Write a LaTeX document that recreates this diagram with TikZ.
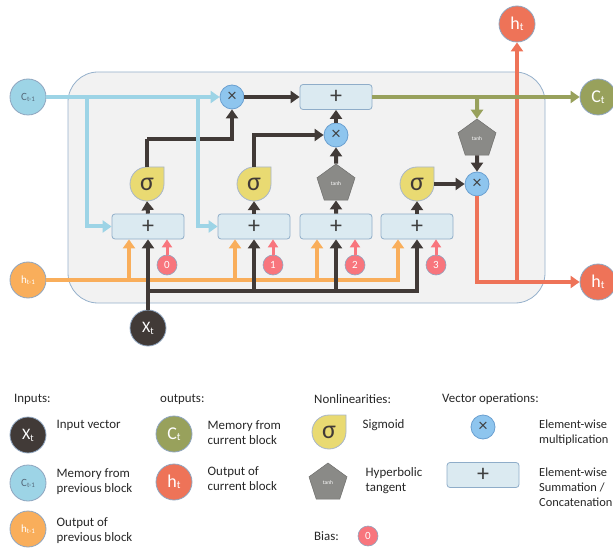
\documentclass[tikz,border=0pt]{standalone}
\usepackage{fontspec}
\setmainfont{Carlito}
\usetikzlibrary{arrows.meta,shapes.geometric,calc}
\definecolor{cblue}{HTML}{9DD4E6}
\definecolor{corange}{HTML}{F9AE5B}
\definecolor{cdark}{HTML}{413A37}
\definecolor{cred}{HTML}{EE7358}
\definecolor{cgreen}{HTML}{98A15C}
\definecolor{multfill}{HTML}{8EC5EE}
\definecolor{multborder}{HTML}{6A9FD0}
\definecolor{boxfill}{HTML}{DBEAF1}
\definecolor{boxborder}{HTML}{8FADC9}
\definecolor{sigfill}{HTML}{E9DA72}
\definecolor{sigborder}{HTML}{A8B6CB}
\definecolor{tanhgray}{HTML}{8A8A87}
\definecolor{biasfill}{HTML}{F8757D}
\definecolor{bgfill}{HTML}{F2F2F2}
\definecolor{bgborder}{HTML}{95B0CB}
\definecolor{circborder}{HTML}{8FA5BF}
\definecolor{symcol}{HTML}{3F3F3F}
\definecolor{ctextcol}{HTML}{55697A}
\newcommand\sigshape[2]{\filldraw[fill=sigfill, draw=sigborder, line width=0.8pt]
  (#1+17,#2-17) -- (#1+17,#2)
  .. controls (#1+17,#2+9.39) and (#1+9.39,#2+17) .. (#1,#2+17)
  .. controls (#1-9.39,#2+17) and (#1-17,#2+9.39) .. (#1-17,#2)
  .. controls (#1-17,#2-9.39) and (#1-9.39,#2-17) .. (#1,#2-17)
  -- cycle;}
\begin{document}
\begin{tikzpicture}[x=1pt,y=-1pt,
  every node/.style={inner sep=0pt, font=\fontsize{12.9}{15}\selectfont},
  circ/.style={circle, minimum size=36pt, draw=circborder, line width=0.8pt, text=white},
  plusbox/.style={rectangle, rounded corners=3pt, minimum width=72pt, minimum height=25pt, fill=boxfill, draw=boxborder, line width=0.8pt, text=symcol, font=\fontsize{24}{24}\selectfont},
  mult/.style={circle, minimum size=24pt, fill=multfill, draw=multborder, line width=0.8pt, text=symcol, font=\fontsize{18}{18}\selectfont},
  tanhnode/.style={regular polygon, regular polygon sides=5, minimum size=40pt, fill=tanhgray, draw=tanhgray!80!black, line width=0.5pt, text=white, font=\fontsize{5.5}{5.5}\selectfont},
  biasnode/.style={circle, minimum size=20pt, fill=biasfill, draw=circborder, line width=0.6pt, text=white, font=\fontsize{11}{11}\selectfont},
  sigtext/.style={circle, minimum size=34pt, text=cdark, font=\fontsize{26}{26}\selectfont},
  legtext/.style={anchor=west, align=left, text=black!85},
  conn/.style={line width=4pt, -{Triangle[width=12pt,length=9pt]}},
  plainline/.style={line width=4pt},
  biasconn/.style={line width=3pt, draw=biasfill, -{Triangle[width=10pt,length=8pt]}}
]
\useasboundingbox (0,0) rectangle (613,548);
% background block
\filldraw[fill=bgfill, draw=bgborder, line width=0.8pt, rounded corners=30pt] (68,72) rectangle (545,303);

% external circles
\node[circ, fill=cblue, text=ctextcol] (cprev) at (28,97) {\fontsize{11}{11}\selectfont C\raisebox{-1pt}{\fontsize{7}{7}\selectfont t-1}};
\node[circ, fill=corange] (hprev) at (28,280) {\fontsize{11}{11}\selectfont h\raisebox{-1pt}{\fontsize{7}{7}\selectfont t-1}};
\node[circ, fill=cdark] (X) at (148,328) {\fontsize{16}{16}\selectfont X\raisebox{-2pt}{\fontsize{10}{10}\selectfont t}};
\node[circ, fill=cgreen] (ct) at (598,97) {\fontsize{18}{18}\selectfont C\raisebox{-1pt}{\fontsize{11}{11}\selectfont t}};
\node[circ, fill=cred] (htt) at (517,24) {\fontsize{18}{18}\selectfont h\raisebox{-1pt}{\fontsize{11}{11}\selectfont t}};
\node[circ, fill=cred] (htr) at (598,282) {\fontsize{18}{18}\selectfont h\raisebox{-1pt}{\fontsize{11}{11}\selectfont t}};

% plus boxes
\node[plusbox] (P0) at (336,97) {+};
\node[plusbox] (P1) at (148,226.5) {+};
\node[plusbox] (P2) at (254,226.5) {+};
\node[plusbox] (P3) at (336,226.5) {+};
\node[plusbox] (P4) at (417,226.5) {+};

% multiplications
\node[mult] (m1) at (232,97) {×};
\node[mult] (m2) at (336,135) {×};
\node[mult] (m3) at (477,184) {×};

% nonlinearities
\sigshape{147}{184}
\node[sigtext] (s1) at (147,184) {σ};
\sigshape{254}{184}
\node[sigtext] (s2) at (254,184) {σ};
\sigshape{417}{184}
\node[sigtext] (s4) at (417,184) {σ};
\node[tanhnode] (T1) at (336,184) {tanh};
\node[tanhnode] (T2) at (477,139) {tanh};

% biases
\node[biasnode] (b0) at (167,265) {0};
\node[biasnode] (b1) at (273,265) {1};
\node[biasnode] (b2) at (355,265) {2};
\node[biasnode] (b3) at (436,265) {3};

% orange h_{t-1} lines
\coordinate (o1) at (129,280);
\coordinate (o2) at (235,280);
\coordinate (o3) at (317,280);
\draw[conn, draw=corange] (hprev.east) -| ([xshift=-19pt]P4.south);
\draw[conn, draw=corange] (o1) -- (o1 |- P1.south);
\draw[conn, draw=corange] (o2) -- (o2 |- P2.south);
\draw[conn, draw=corange] (o3) -- (o3 |- P3.south);

% black X_t lines
\coordinate (k0) at (148,291);
\coordinate (k2) at (254,291);
\coordinate (k3) at (336,291);
\draw[conn, draw=cdark] (X.north) -- (P1.south);
\draw[conn, draw=cdark] (k0) -| (P4.south);
\draw[conn, draw=cdark] (k2) -- (P2.south);
\draw[conn, draw=cdark] (k3) -- (P3.south);

% bias arrows
\draw[biasconn] (b0.north) -- (b0.north |- P1.south);
\draw[biasconn] (b1.north) -- (b1.north |- P2.south);
\draw[biasconn] (b2.north) -- (b2.north |- P3.south);
\draw[biasconn] (b3.north) -- (b3.north |- P4.south);

% internal black connections
\draw[conn, draw=cdark] (P1.north) -- (s1.south);
\draw[conn, draw=cdark] (P2.north) -- (s2.south);
\draw[conn, draw=cdark] (P3.north) -- (T1.south);
\draw[conn, draw=cdark] (P4.north) -- (s4.south);
\coordinate (j1) at (147,139);
\draw[plainline, draw=cdark] (s1.north) -- (j1);
\draw[conn, draw=cdark] (j1) -| (m1.south);
\draw[conn, draw=cdark] (s2.north) |- (m2.west);
\draw[conn, draw=cdark] (T1.north) -- (m2.south);
\draw[conn, draw=cdark] (m2.north) -- (P0.south);
\draw[conn, draw=cdark] (m1.east) -- (P0.west);
\draw[conn, draw=cdark] (s4.east) -- (m3.west);
\draw[conn, draw=cdark] (T2.south) -- (m3.north);

% red output lines
\coordinate (r1) at (517,282);
\draw[conn, draw=cred] (m3.south) |- (htr.west);
\draw[conn, draw=cred] (r1) -- (htt.south);

% green memory line
\coordinate (g1) at (477,97);
\draw[conn, draw=cgreen] (P0.east) -- (ct.west);
\draw[conn, draw=cgreen] (g1) -- (T2.north);

% blue c_{t-1} lines
\coordinate (c1) at (87,97);
\coordinate (c2) at (198,97);
\draw[conn, draw=cblue] (cprev.east) -- (m1.west);
\draw[conn, draw=cblue] (c1) |- (P1.west);
\draw[conn, draw=cblue] (c2) |- (P2.west);

% legend
\node[legtext] (L1) at (14,399) {Inputs:};
\node[legtext] (L2) at (160,399) {outputs:};
\node[legtext] (L3) at (314,399) {Nonlinearities:};
\node[legtext] (L4) at (442,399) {Vector operations:};

\node[circ, fill=cdark] (lX) at (28,435) {\fontsize{16}{16}\selectfont X\raisebox{-2pt}{\fontsize{10}{10}\selectfont t}};
\node[legtext] (tX) at (56.5,425) {Input vector};
\node[circ, fill=cblue, text=ctextcol] (lc) at (28,483) {\fontsize{11}{11}\selectfont C\raisebox{-1pt}{\fontsize{7}{7}\selectfont t-1}};
\node[legtext] (tc) at (56.5,481.5) {Memory from\\previous block};
\node[circ, fill=corange] (lh) at (28,529) {\fontsize{11}{11}\selectfont h\raisebox{-1pt}{\fontsize{7}{7}\selectfont t-1}};
\node[legtext] (th) at (56.5,530.5) {Output of\\previous block};

\node[circ, fill=cgreen] (lct) at (174,434) {\fontsize{18}{18}\selectfont C\raisebox{-1pt}{\fontsize{11}{11}\selectfont t}};
\node[legtext] (tct) at (207.5,432.5) {Memory from\\current block};
\node[circ, fill=cred] (lht) at (174,482) {\fontsize{18}{18}\selectfont h\raisebox{-1pt}{\fontsize{11}{11}\selectfont t}};
\node[legtext] (tht) at (207.5,478.5) {Output of\\current block};

\sigshape{329}{432}
\node[sigtext] (ls) at (329,432) {σ};
\node[legtext] (ts) at (362.5,425) {Sigmoid};
\node[tanhnode] (lt) at (328,483) {tanh};
\node[legtext] (tt) at (365.5,480.5) {Hyperbolic\\tangent};

\node[mult] (lm) at (483,427) {×};
\node[legtext, font=\fontsize{12.4}{15}\selectfont] (tm) at (539,432.5) {Element-wise\\multiplication};
\node[plusbox] (lp) at (483,475) {+};
\node[legtext, font=\fontsize{12.4}{15}\selectfont] (tp) at (539,487) {Element-wise\\Summation /\\Concatenation};

\node[legtext] (tb) at (314,536) {Bias:};
\node[biasnode] (lb) at (368,536) {0};
\end{tikzpicture}
\end{document}
